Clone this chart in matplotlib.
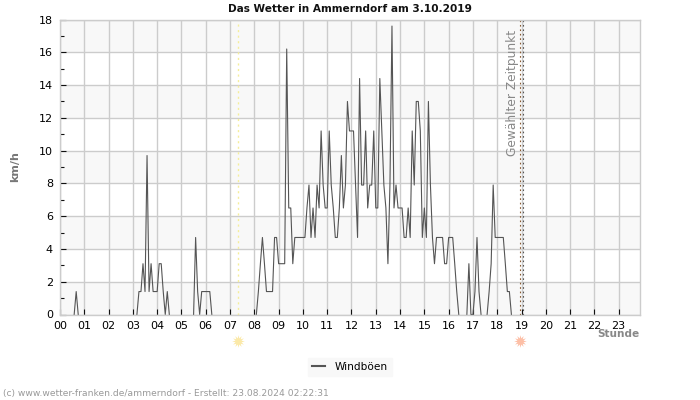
import numpy as np
import matplotlib
matplotlib.use("Agg")
import matplotlib.pyplot as plt

# gusts in km/h, one value per 5 minutes, grouped by hour
h00 = [0, 0, 0, 0, 0, 0, 0, 0, 1.4, 0, 0, 0]
h01 = [0] * 12
h02 = [0] * 12
h03 = [0, 0, 0, 1.4, 1.4, 3.1, 1.4, 9.7, 1.4, 3.1, 1.4, 1.4]
h04 = [1.4, 3.1, 3.1, 1.4, 0, 1.4, 0, 0, 0, 0, 0, 0]
h05 = [0, 0, 0, 0, 0, 0, 0, 4.7, 1.4, 0, 1.4, 1.4]
h06 = [1.4, 1.4, 1.4, 0, 0, 0, 0, 0, 0, 0, 0, 0]
h07 = [0] * 12
h08 = [0, 0, 1.4, 3.1, 4.7, 3.1, 1.4, 1.4, 1.4, 1.4, 4.7, 4.7]
h09 = [3.1, 3.1, 3.1, 3.1, 16.2, 6.5, 6.5, 3.1, 4.7, 4.7, 4.7, 4.7]
h10 = [4.7, 4.7, 6.5, 7.9, 4.7, 6.5, 4.7, 7.9, 6.5, 11.2, 7.9, 6.5]
h11 = [6.5, 11.2, 7.9, 6.5, 4.7, 4.7, 6.5, 9.7, 6.5, 7.9, 13, 11.2]
h12 = [11.2, 11.2, 7.9, 4.7, 14.4, 7.9, 7.9, 11.2, 6.5, 7.9, 7.9, 11.2]
h13 = [6.5, 6.5, 14.4, 11.2, 7.9, 6.5, 3.1, 7.9, 17.6, 6.5, 7.9, 6.5]
h14 = [6.5, 6.5, 4.7, 4.7, 6.5, 4.7, 11.2, 7.9, 13, 13, 11.2, 4.7]
h15 = [6.5, 4.7, 13, 7.9, 4.7, 3.1, 4.7, 4.7, 4.7, 4.7, 3.1, 3.1]
h16 = [4.7, 4.7, 4.7, 3.1, 1.4, 0, 0, 0, 0, 0, 3.1, 0]
h17 = [0, 1.4, 4.7, 1.4, 0, 0, 0, 0, 1.4, 3.1, 7.9, 4.7]
h18 = [4.7, 4.7, 4.7, 4.7, 3.1, 1.4, 1.4, 0]

gusts = np.array(h00 + h01 + h02 + h03 + h04 + h05 + h06 + h07 + h08 + h09
                 + h10 + h11 + h12 + h13 + h14 + h15 + h16 + h17 + h18, dtype=float)
hours = np.arange(len(gusts)) * 5 / 60

# calm stretches sit on the axis frame and do not show as a dark line
prev_zero = np.r_[True, gusts[:-1] == 0]
next_zero = np.r_[gusts[1:] == 0, True]
shown = np.where((gusts == 0) & prev_zero & next_zero, np.nan, gusts)

hour_labels = [f"{h:02d}" for h in range(24)]
sunrise = 7.34
sunset = 18.94
selected = 19.06

fig = plt.figure(figsize=(7, 4), dpi=100)
ax = fig.add_axes([60 / 700, 1 - 314.5 / 400, 580.3 / 700, 295 / 400])

# grey bands every other 2 km/h
for lo in range(0, 18, 4):
    ax.axhspan(lo, lo + 2, color="#f8f8f8", lw=0, zorder=0)
ax.grid(True, color="#cccccc", lw=1, zorder=1)
ax.set_axisbelow(True)

line, = ax.plot(hours, shown, color="#555555", lw=0.8, zorder=3, label="Windböen")
ax.axvline(sunrise, color="#f5ee9a", lw=1, ls=(0, (1.5, 2.5)), zorder=2)
ax.axvline(sunset, color="#8a5a30", lw=0.8, ls=(0, (1.5, 2.5)), zorder=2)
ax.axvline(selected, color="#555555", lw=0.8, ls=(0, (1.5, 2.5)), zorder=2)

ax.text(18.63, 17.35, "Gewählter Zeitpunkt", rotation=90, ha="center", va="top",
        fontsize=8.8, color="#888888", zorder=4)

ax.set_xlim(0, 23.89)
ax.set_ylim(0, 18)
ax.set_xticks(range(24))
ax.set_xticklabels(hour_labels)
ax.set_yticks(range(0, 19, 2))
ax.set_yticks(range(1, 18, 2), minor=True)
ax.grid(False, which="minor")
ax.tick_params(axis="both", which="major", direction="in", length=4, width=0.8,
               labelsize=8, pad=5, color="#111111")
ax.tick_params(axis="y", which="minor", direction="in", length=3, width=0.8, color="#111111")
for s in ax.spines.values():
    s.set_color("#cccccc")
    s.set_linewidth(1)
    s.set_zorder(5)

# sun symbols under the axis
trans = ax.get_xaxis_transform()
ax.plot([sunrise], [-0.09], marker=(12, 1, 0), ms=9, color="#fbe9a8", mew=0,
        transform=trans, clip_on=False)
ax.plot([sunset], [-0.09], marker=(12, 1, 0), ms=9, color="#fdbfa6", mew=0,
        transform=trans, clip_on=False)

fig.text(350 / 700, 1 - 8.5 / 400, "Das Wetter in Ammerndorf am 3.10.2019", ha="center", va="center",
         fontsize=7.6, fontweight="bold", color="#111111")
fig.text(15.5 / 700, 1 - 167 / 400, "km/h", rotation=90, ha="center", va="center",
         fontsize=8, fontweight="bold", color="#777777")
fig.text(639 / 700, 1 - 334 / 400, "Stunde", ha="right", va="center",
         fontsize=7.6, fontweight="bold", color="#888888")
fig.text(3 / 700, 1 - 393.5 / 400, "(c) www.wetter-franken.de/ammerndorf - Erstellt: 23.08.2024 02:22:31",
         ha="left", va="center", fontsize=6.6, color="#999999")

leg = ax.legend(handles=[line], loc="center", bbox_to_anchor=(350 / 700, 1 - 367 / 400),
                bbox_transform=fig.transFigure, ncol=1, fontsize=7.6, frameon=True, fancybox=False,
                facecolor="#f8f8f8", edgecolor="#f8f8f8", framealpha=1, handlelength=1.2,
                borderpad=0.4, handletextpad=0.9)
leg.get_lines()[0].set_linewidth(1.5)

fig.savefig("out.png", dpi=100)
